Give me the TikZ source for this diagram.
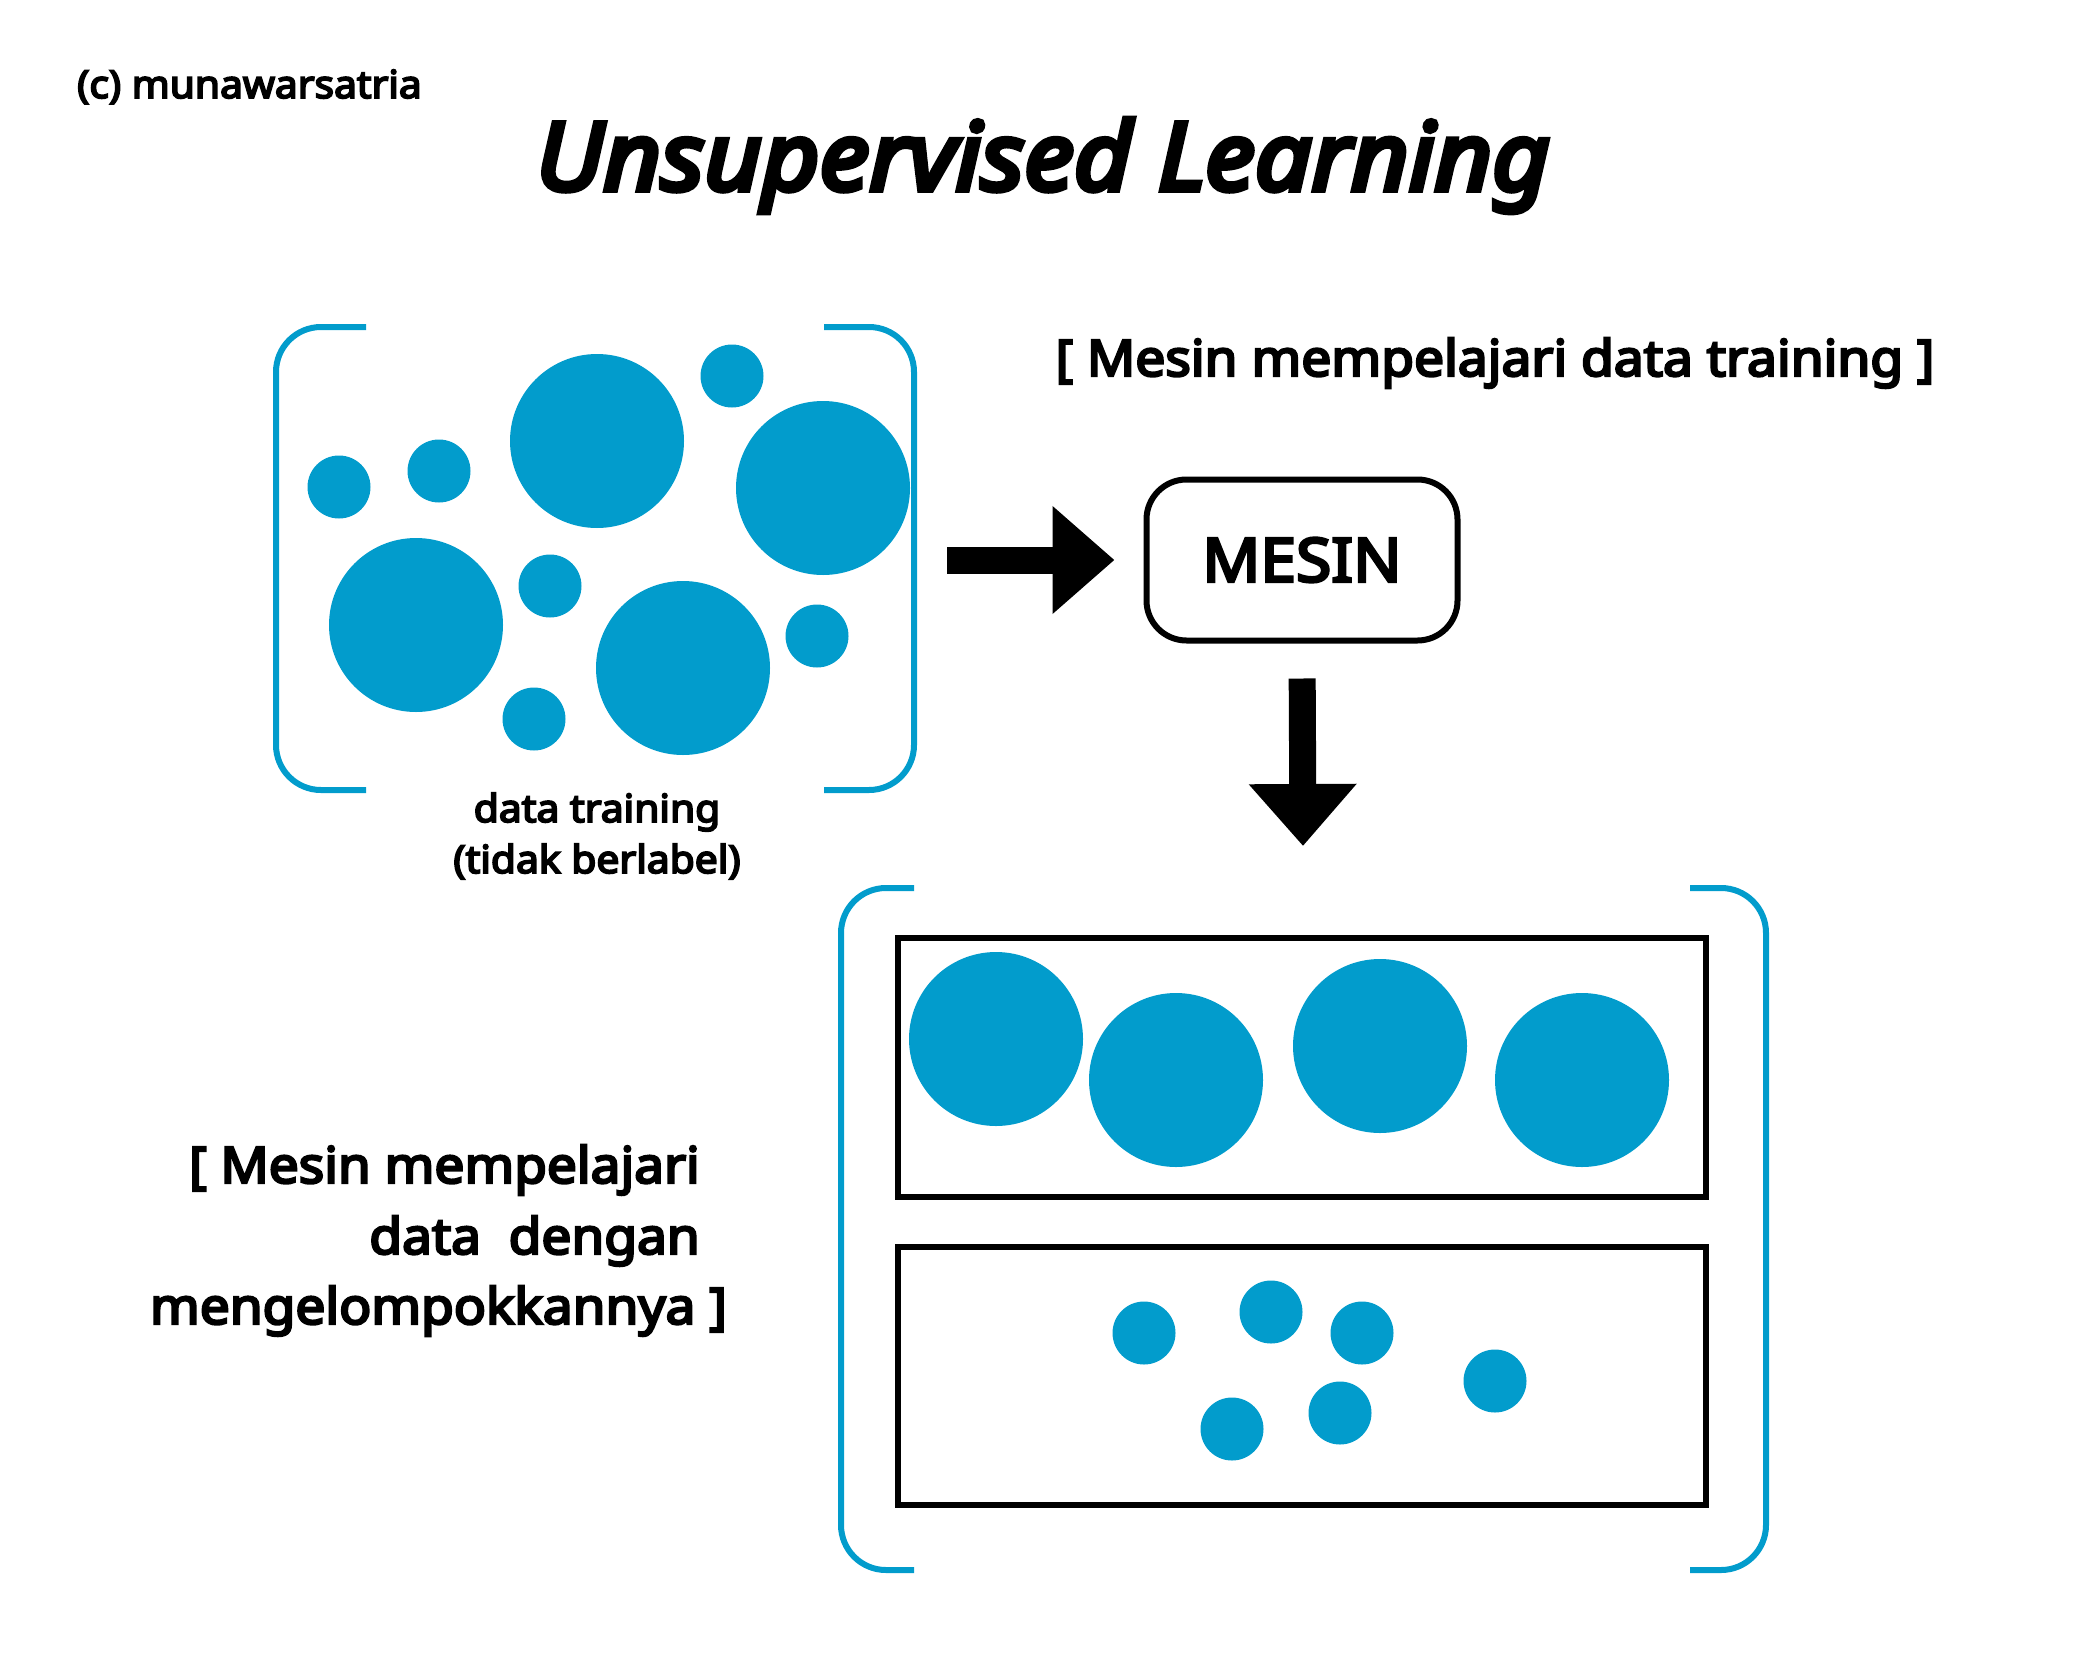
\documentclass[tikz,border=0pt]{standalone}
\usepackage{fontspec}
\setmainfont{Noto Sans}[AutoFakeBold=4.8,BoldFeatures={FakeStretch=1.06},BoldItalicFeatures={FakeBold=6,FakeStretch=1.06}]
\usetikzlibrary{arrows.meta}
\definecolor{dotblue}{RGB}{2,156,204}
\tikzset{
  bigdot/.style={circle,fill=dotblue,inner sep=0pt,minimum size=174pt},
  smalldot/.style={circle,fill=dotblue,inner sep=0pt,minimum size=63pt},
  bracket/.style={draw=dotblue,line width=6pt,rounded corners=45pt},
  groupbox/.style={draw=black,line width=6pt,minimum width=808pt,minimum height=258pt},
  machinebox/.style={draw=black,line width=6pt,rounded corners=40pt,minimum width=311pt,minimum height=161pt},
  blockarrow/.style={line width=27pt,-{Triangle[length=62pt,width=104pt]}}
}
\begin{document}
\begin{tikzpicture}[x=1pt,y=-1pt]
\useasboundingbox (0,0) rectangle (2084,1667);
% Title
\node[anchor=base west,inner sep=0pt,font=\fontsize{38.4}{46}\selectfont\bfseries] (credit) at (77,98) {(c) munawarsatria};
\node[anchor=base,inner sep=0pt,font=\fontsize{94}{110}\selectfont\bfseries\itshape] (title) at (1043,190) {Unsupervised Learning};
% Data training
\draw[bracket] (366,327) -- (276,327) -- (276,790) -- (366,790); % left bracket
\draw[bracket] (824,327) -- (914,327) -- (914,790) -- (824,790); % right bracket
\node[bigdot] (d1) at (597,441) {};
\node[bigdot] (d2) at (823,488) {};
\node[bigdot] (d3) at (416,625) {};
\node[bigdot] (d4) at (683,668) {};
\node[smalldot] (d5) at (339,487) {};
\node[smalldot] (d6) at (439,471) {};
\node[smalldot] (d7) at (732,376) {};
\node[smalldot] (d8) at (550,586) {};
\node[smalldot] (d9) at (817,636) {};
\node[smalldot] (d10) at (534,719) {};
\node[anchor=base,inner sep=0pt,font=\fontsize{38.5}{46}\selectfont\bfseries] (datalabel) at (597,822) {data training};
\node[anchor=base,inner sep=0pt,font=\fontsize{38.5}{46}\selectfont\bfseries] (datalabelb) at (597,873) {(tidak berlabel)};
% Mesin
\node[anchor=base,inner sep=0pt,font=\fontsize{50.3}{60}\selectfont\bfseries] (toplabel) at (1495,376) {[ Mesin mempelajari data training ]};
\node[machinebox,font=\fontsize{60.5}{70}\selectfont\bfseries] (mesin) at (1302,560) {MESIN};
% Arrows
\coordinate (datatr) at (947,560);
\coordinate (groupin) at (1303,846);
\draw[blockarrow,shorten >=29pt] (datatr) -- (mesin.west);
\draw[blockarrow,shorten <=35pt] (mesin.south) -- (groupin);
% Groups
\draw[bracket] (914,888) -- (841,888) -- (841,1570) -- (914,1570); % left bracket
\draw[bracket] (1690,888) -- (1766,888) -- (1766,1570) -- (1690,1570); % right bracket
\node[groupbox,minimum height=259pt] (groupa) at (1302,1067) {};
\node[groupbox] (groupb) at (1302,1375.5) {};
\node[bigdot] (a1) at (996,1039) {};
\node[bigdot] (a2) at (1176,1080) {};
\node[bigdot] (a3) at (1380,1046) {};
\node[bigdot] (a4) at (1582,1080) {};
\node[smalldot] (b1) at (1144,1333) {};
\node[smalldot] (b2) at (1271,1312) {};
\node[smalldot] (b3) at (1362,1333) {};
\node[smalldot] (b4) at (1495,1381) {};
\node[smalldot] (b5) at (1340,1413) {};
\node[smalldot] (b6) at (1232,1429) {};
% Left text
\node[anchor=base east,inner sep=0pt,font=\fontsize{50.2}{60}\selectfont\bfseries] (grouptexta) at (700,1183) {[ Mesin mempelajari};
\node[anchor=base east,inner sep=0pt,font=\fontsize{50.2}{60}\selectfont\bfseries] (grouptextb) at (700,1254) {data\ \ dengan};
\node[anchor=base east,inner sep=0pt,font=\fontsize{50.2}{60}\selectfont\bfseries] (grouptextc) at (727,1324) {mengelompokkannya ]};
\end{tikzpicture}
\end{document}
